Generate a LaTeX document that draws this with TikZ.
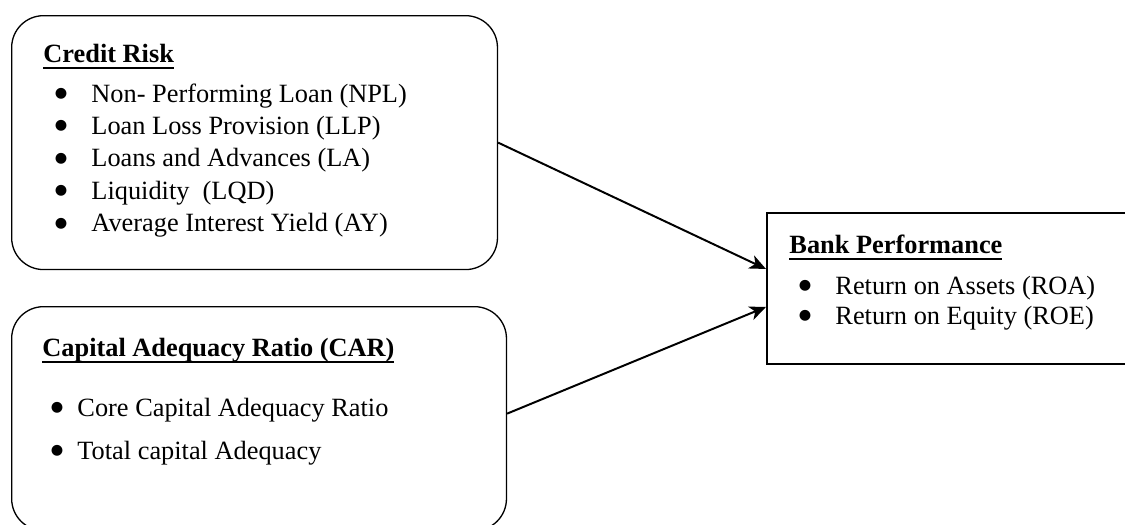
\documentclass[tikz,border=0pt]{standalone}
\usepackage{fontspec}
\setmainfont{Liberation Serif}
\newfontfamily\symfont{DejaVu Sans}
\usepackage{xcolor}
\usepackage{tikz}
\usetikzlibrary{arrows.meta,positioning,calc}
\newcommand{\boxtitle}[1]{\setbox0\hbox{\bfseries #1}\rlap{\rule[-3pt]{\wd0}{0.9pt}}\box0}
\newcommand{\bigbullet}{\raisebox{2pt}{\symfont\fontsize{6.5}{7}\selectfont ●}}
\newcommand{\bulitem}[5]{\node[bul] (#1b) at (#2,#4) {\bigbullet}; \node[txt] (#1) at (#3,#4) {#5};}
\tikzset{
  rbox/.style={draw,line width=0.6pt,rounded corners=0.51cm,inner sep=0,anchor=north west},
  pbox/.style={draw,line width=0.9pt,inner sep=0,anchor=north west},
  txt/.style={anchor=base west,inner sep=0,font=\fontsize{12}{14}\selectfont},
  bul/.style={anchor=base,inner sep=0},
  link/.style={line width=0.9pt,-{Stealth[length=7.5pt,width=6.5pt,inset=2.2pt]}}
}
\begin{document}
\begin{tikzpicture}[x=0.016cm,y=-0.016cm]
  \useasboundingbox (0,0) rectangle (1125,524);
  \clip (0,0) rectangle (1125,524);
  % boxes
  \node[rbox,minimum width=7.776cm,minimum height=4.064cm] (credit) at (11,15) {};
  \node[rbox,minimum width=7.92cm,minimum height=3.584cm] (car) at (11,306) {};
  \node[pbox,minimum width=5.984cm,minimum height=2.416cm] (bank) at (766,212) {};
  % credit risk
  \node[txt] (crtitle) at (43,62) {\boxtitle{Credit Risk}};
  \bulitem{npl}{61}{91}{102}{Non- Performing Loan (NPL)}
  \bulitem{llp}{61}{91}{134}{Loan Loss Provision (LLP)}
  \bulitem{la}{61}{91}{166.5}{Loans and Advances (LA)}
  \bulitem{lqd}{61}{91}{199}{Liquidity\ \ (LQD)}
  \bulitem{ay}{61}{91}{231.5}{Average Interest Yield (AY)}
  % capital adequacy
  \node[txt] (cartitle) at (42,356) {\boxtitle{Capital Adequacy Ratio (CAR)}};
  \bulitem{core}{57}{77}{416}{Core Capital Adequacy Ratio}
  \bulitem{total}{57}{77}{459}{Total capital Adequacy}
  % bank performance
  \node[txt] (bptitle) at (789,253) {\boxtitle{Bank Performance}};
  \bulitem{roa}{805}{835}{294}{Return on Assets (ROA)}
  \bulitem{roe}{805}{835}{324}{Return on Equity (ROE)}
  % links
  \draw[link] (credit.east) -- ($(bank.west)+(0,-19.5)$);
  \draw[link] ($(car.east)+(0,-5)$) -- ($(bank.west)+(0,18.5)$);
\end{tikzpicture}
\end{document}
